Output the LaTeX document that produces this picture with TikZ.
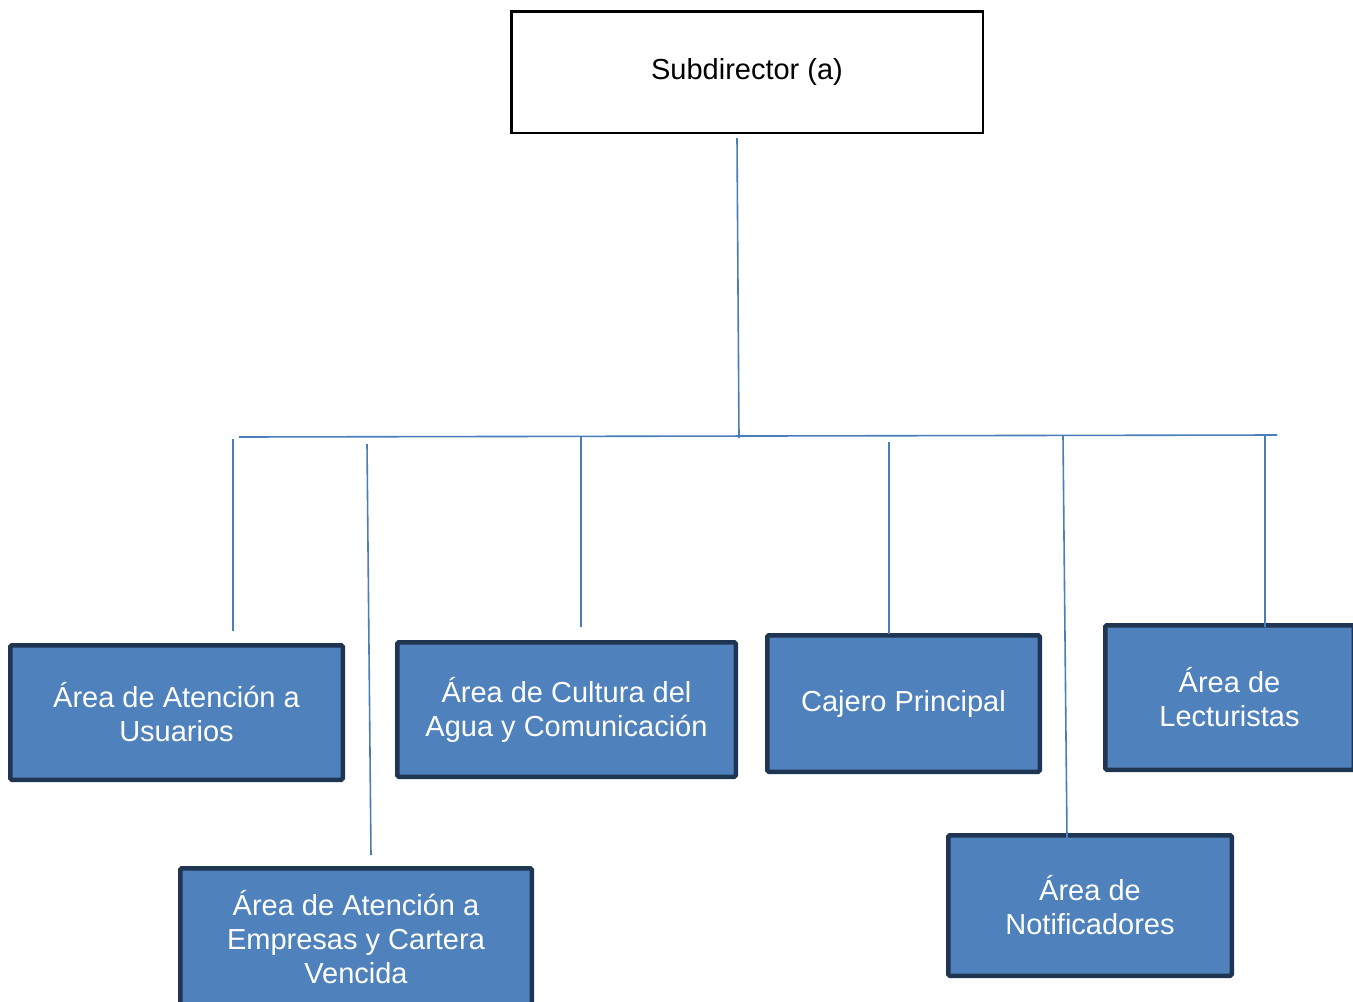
\documentclass[tikz,border=0pt]{standalone}
\usepackage{fontspec}
\setmainfont{Liberation Sans}
\definecolor{unitfill}{HTML}{4F81BD}
\definecolor{unitedge}{HTML}{1F3552}
\definecolor{linkline}{HTML}{4A7EBB}
\begin{document}
\begin{tikzpicture}[x=1pt,y=-1pt,
  headbox/.style={draw=black,line width=2.5pt,fill=white,minimum width=471.5pt,minimum height=121.5pt,
    inner sep=0pt,font=\fontsize{29}{34}\selectfont},
  unitbox/.style={draw=unitedge,line width=4.5pt,fill=unitfill,rounded corners=1.5pt,inner sep=0pt,
    text=white,align=center,font=\fontsize{29}{34}\selectfont},
  link/.style={draw=linkline,line width=1.6pt}]
\clip (0,0) rectangle (1353,1002);
\fill[white] (0,0) rectangle (1353,1002);

% head of the department
\node[headbox] (head) at (747,72) {Subdirector (a)};

% subordinate areas
\node[unitbox,minimum width=332.5pt,minimum height=134.5pt] (usuarios) at (176.5,712.5)
  {Área de Atención a\\Usuarios};
\node[unitbox,minimum width=351.5pt,minimum height=137.5pt] (empresas) at (356,937)
  {Área de Atención a\\Empresas y Cartera\\Vencida};
\node[unitbox,minimum width=338.5pt,minimum height=134.5pt] (cultura) at (566.5,709.5)
  {Área de Cultura del\\Agua y Comunicación};
\node[unitbox,minimum width=272.5pt,minimum height=136.5pt] (cajero) at (903.5,703.5)
  {Cajero Principal};
\node[unitbox,minimum width=248.5pt,minimum height=144.5pt] (lecturistas) at (1229.5,697.5)
  {Área de\\Lecturistas};
\node[unitbox,minimum width=283.5pt,minimum height=140.5pt] (notificadores) at (1090,905.5)
  {Área de\\Notificadores};

% line ends
\coordinate (trunkTop) at (737,138);
\coordinate (trunkBot) at (739,438);
\coordinate (barL) at (239,437);
\coordinate (barR) at (1277,435);
\coordinate (uTop) at (233,439);
\coordinate (uEnd) at (233,631);
\coordinate (eTop) at (367,444);
\coordinate (eEnd) at (371,855);
\coordinate (cTop) at (581,437);
\coordinate (cEnd) at (581,627);
\coordinate (jTop) at (889,442);
\coordinate (jEnd) at (889,634);
\coordinate (nTop) at (1063,436);
\coordinate (nEnd) at (1067,838);
\coordinate (lTop) at (1265,436);
\coordinate (lEnd) at (1265,627);

% connectors
\draw[link] (trunkTop) -- (trunkBot);
\draw[link] (barL) -- (barR);
\draw[link] (uTop) -- (uEnd);
\draw[link] (eTop) -- (eEnd);
\draw[link] (cTop) -- (cEnd);
\draw[link] (jTop) -- (jEnd);
\draw[link] (nTop) -- (nEnd);
\draw[link] (lTop) -- (lEnd);
\end{tikzpicture}
\end{document}
